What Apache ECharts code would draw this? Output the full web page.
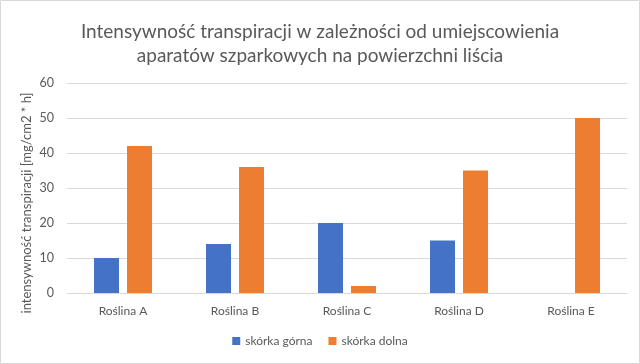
<!DOCTYPE html>
<html><head><meta charset="utf-8">
<script src="https://cdn.jsdelivr.net/npm/echarts@6/dist/echarts.min.js"></script>
<style>html,body{margin:0;padding:0;background:#fff}#c{width:640px;height:364px}</style>
</head><body><div id="c"></div>
<script>
const categories = ['Roślina A', 'Roślina B', 'Roślina C', 'Roślina D', 'Roślina E'];
const upperSkin = [10, 14, 20, 15, 0];
const lowerSkin = [42, 36, 2, 35, 50];
const seriesNames = ['skórka górna', 'skórka dolna'];
const titleText = 'Intensywność transpiracji w zależności od umiejscowienia\naparatów szparkowych na powierzchni liścia';
const yAxisName = 'intensywność transpiracji [mg/cm2 * h]';

const FONT = 'Lato';
const chart = echarts.init(document.getElementById('c'));
chart.setOption({
  backgroundColor: '#fff',
  animation: false,
  graphic: [
    { type: 'rect', shape: { x: 0.5, y: 0.5, width: 639, height: 363 }, style: { fill: 'none', stroke: '#d9d9d9', lineWidth: 1 } },
    { type: 'text', x: 27, y: 203, rotation: Math.PI / 2, style: { text: yAxisName, fontFamily: FONT, fontSize: 13, fill: '#595959', align: 'center', verticalAlign: 'middle' } }
  ],
  title: { text: titleText, left: 'center', top: 15, textStyle: { fontFamily: FONT, fontSize: 19, fontWeight: 'normal', color: '#595959', lineHeight: 24 } },
  legend: { bottom: 12, left: 'center', itemWidth: 8, itemHeight: 8, itemGap: 16, icon: 'rect', textStyle: { fontFamily: FONT, fontSize: 12, color: '#595959' }, data: seriesNames },
  grid: { left: 67, right: 13, top: 83, bottom: 71 },
  xAxis: { type: 'category', data: categories, axisLine: { lineStyle: { color: '#d9d9d9' } }, axisTick: { show: false }, axisLabel: { fontFamily: FONT, fontSize: 12, color: '#595959', margin: 12 } },
  yAxis: { type: 'value', min: 0, max: 60, interval: 10, axisLine: { show: false }, axisTick: { show: false }, axisLabel: { fontFamily: FONT, fontSize: 12.5, color: '#595959', margin: 13 }, splitLine: { lineStyle: { color: '#d9d9d9' } } },
  series: [
    { name: seriesNames[0], type: 'bar', data: upperSkin, barWidth: 25, barGap: '32%', itemStyle: { color: '#4472C4' } },
    { name: seriesNames[1], type: 'bar', data: lowerSkin, barWidth: 25, itemStyle: { color: '#ED7D31' } }
  ]
});
</script></body></html>
